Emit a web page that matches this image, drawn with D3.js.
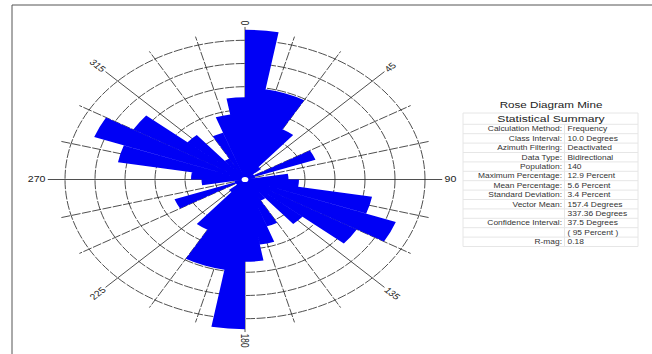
<!DOCTYPE html>
<html><head><meta charset="utf-8">
<script src="https://cdn.jsdelivr.net/npm/d3@7/dist/d3.min.js"></script>
<style>body{margin:0;background:#fff}svg{display:block}</style>
</head><body>
<svg id="chart" width="652" height="354"></svg>
<script>
// ---- data ----
const binStarts = [0,10,20,30,40,50,60,70,80,90,100,110,120,130,140,150,160,170]; // degrees (bidirectional: mirrored +180)
const binPercent = [12.9,7.9,7.9,5.0,1.4,0.7,5.0,0.7,2.9,3.6,8.6,10.7,8.6,5.0,2.1,4.3,5.7,7.1];
const binWidth = 10;
const ringValues = [2,4,6,8,10,12];
const spokeAngles = [0,15,30,45,60,75,90,105,120,135,150,165,180,195,210,225,240,255,270,285,300,315,330,345];
const axisLabels = [0,45,90,135,180,225,270,315];
const chartTitle = "Rose Diagram Mine";
const summaryTitle = "Statistical Summary";
const summaryLabels = ["Calculation Method:","Class Interval:","Azimuth Filtering:","Data Type:","Population:","Maximum Percentage:","Mean Percentage:","Standard Deviation:","Vector Mean:","","Confidence Interval:","","R-mag:"];
const summaryValues = ["Frequency","10.0 Degrees","Deactivated","Bidirectional","140","12.9 Percent","5.6 Percent","3.4 Percent","157.4 Degrees","337.36 Degrees","37.5 Degrees","( 95 Percent )","0.18"];

// ---- layout ----
const W = 652, H = 354;
const cx = 245, cy = 179.5, sx = 1.293;
const svg = d3.select("#chart");

// frame
svg.append("line").attr("x1",12).attr("y1",5).attr("x2",W).attr("y2",5).attr("stroke","#555").attr("stroke-width",1);
svg.append("line").attr("x1",12).attr("y1",5).attr("x2",12).attr("y2",H).attr("stroke","#555").attr("stroke-width",1);

const r = d3.scaleLinear().domain([0,12]).range([0,139.2]);
const rad = d => d*Math.PI/180;
const g = svg.append("g").attr("transform",`translate(${cx},${cy}) scale(${sx},1)`);

// spokes
g.selectAll("line.spoke").data(spokeAngles).join("line")
  .attr("class","spoke")
  .attr("x1",0).attr("y1",0)
  .attr("x2",d => Math.sin(rad(d))*r(d%45===0?13.15:12.75))
  .attr("y2",d => -Math.cos(rad(d))*r(d%45===0?13.15:12.75))
  .attr("stroke","#222").attr("stroke-width",0.8)
  .attr("stroke-dasharray",d => d%45===0?null:"9,1.5")
  .attr("vector-effect","non-scaling-stroke");

// rings
g.selectAll("circle.ring").data(ringValues).join("circle")
  .attr("class","ring").attr("r",d=>r(d))
  .attr("fill","none").attr("stroke","#222").attr("stroke-width",0.8)
  .attr("stroke-dasharray","9,1.5")
  .attr("vector-effect","non-scaling-stroke");

// petals (bidirectional) combined into one path to avoid seams
const petals = [];
binStarts.forEach((a,i) => {
  petals.push({a:a, v:binPercent[i]});
  petals.push({a:a+180, v:binPercent[i]});
});
const arc = d3.arc().innerRadius(0);
g.append("path")
  .attr("class","petals")
  .attr("d",petals.map(d => arc({outerRadius:r(d.v), startAngle:rad(d.a), endAngle:rad(d.a+binWidth)})).join(""))
  .attr("fill","#0000f5");

// center dot
g.append("circle").attr("r",2.6).attr("fill","#fff");

// axis labels
g.selectAll("text.alab").data(axisLabels).join("text")
  .attr("class","alab")
  .attr("transform",d => {
    const rr = r(13.3);
    const x = Math.sin(rad(d))*rr, y = -Math.cos(rad(d))*rr;
    const rot = d===0 ? 90 : (d<=180 ? d-90 : d-270);
    return `translate(${x},${y}) rotate(${rot})`;
  })
  .attr("text-anchor",d => (d===0 || d>180) ? "end" : "start")
  .attr("dy","0.35em")
  .attr("font-family","Liberation Sans, Arial, sans-serif")
  .attr("font-size",8.2).attr("fill","#222")
  .text(d => d);

// ---- summary table ----
const tx0 = 463, tx1 = 638, colX = 564.5;
const rowY0 = 129, rowH = 9.4;
const tbl = svg.append("g");
const gridCol = "#e6e6e6";
tbl.append("line").attr("x1",tx0).attr("x2",tx1).attr("y1",113).attr("y2",113).attr("stroke",gridCol);
summaryLabels.forEach((lab,i) => {
  const yl = rowY0 - rowH/2 + i*rowH;
  tbl.append("line").attr("x1",tx0).attr("x2",tx1).attr("y1",yl).attr("y2",yl).attr("stroke",gridCol);
});
const yEnd = rowY0 - rowH/2 + summaryLabels.length*rowH;
tbl.append("line").attr("x1",tx0).attr("x2",tx1).attr("y1",yEnd).attr("y2",yEnd).attr("stroke",gridCol);
[tx0, tx1].forEach(x => tbl.append("line").attr("x1",x).attr("x2",x).attr("y1",113).attr("y2",yEnd).attr("stroke",gridCol));
tbl.append("line").attr("x1",colX).attr("x2",colX).attr("y1",rowY0-rowH/2).attr("y2",yEnd).attr("stroke",gridCol);

const font = "Liberation Sans, Arial, sans-serif";
svg.append("text").attr("transform",`translate(551,108.3) scale(${sx},1)`)
  .attr("text-anchor","middle").attr("font-family",font).attr("font-size",9).attr("fill","#222").text(chartTitle);
svg.append("text").attr("transform",`translate(551,122.4) scale(${sx},1)`)
  .attr("text-anchor","middle").attr("font-family",font).attr("font-size",9.4).attr("fill","#222").text(summaryTitle);

summaryLabels.forEach((lab,i) => {
  const y = rowY0 + i*rowH + 2.3;
  svg.append("text").attr("transform",`translate(562,${y}) scale(${sx},1)`)
    .attr("text-anchor","end").attr("font-family",font).attr("font-size",6.5).attr("fill","#333").text(lab);
  svg.append("text").attr("transform",`translate(567.5,${y}) scale(${sx},1)`)
    .attr("text-anchor","start").attr("font-family",font).attr("font-size",6.5).attr("fill","#333").text(summaryValues[i]);
});
</script>
</body></html>
